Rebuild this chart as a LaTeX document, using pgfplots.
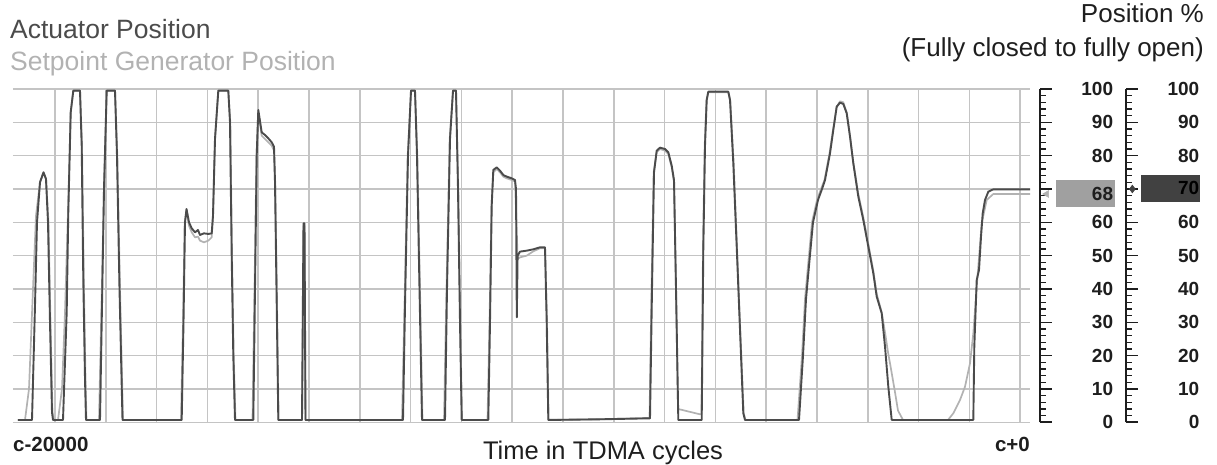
\documentclass[border=0pt]{standalone}
\usepackage{pgfplots}
\pgfplotsset{compat=1.18}
\usepackage{fontspec}
\setmainfont{Liberation Sans}
\definecolor{act}{RGB}{75,75,75}
\definecolor{spg}{RGB}{178,178,178}
\definecolor{gridc}{RGB}{196,196,196}
\definecolor{txt}{RGB}{30,30,30}
\definecolor{boxl}{RGB}{160,160,160}
\definecolor{boxd}{RGB}{65,65,65}

\begin{document}
\begin{tikzpicture}
\path[use as bounding box] (0pt,0pt) rectangle (1217pt,465pt);
% ---------------- main plot ----------------
\begin{axis}[
  at={(13pt,42.7pt)}, anchor=south west,
  scale only axis, width=1017pt, height=333.3pt,
  xmin=13, xmax=1030, ymin=0, ymax=100,
  axis line style={draw=none},
  xtick={55,105.8,...,1021}, ytick={0,10,...,100},
  xticklabels={}, yticklabels={},
  tick style={draw=none},
  major tick length=0pt,
  grid=major, major grid style={gridc, line width=1.5pt},
  clip=false,
]
% Setpoint Generator Position (light)
\addplot[spg, line width=1.7pt, line join=round] coordinates {
(18,0.7) (25,0.7) (29,10) (33,40) (36,62) (40,72) (43.5,75) (46,73) (48.5,60) (50.5,30) (52.5,3) (54,0.7)
(58,0.7) (62,10) (65,33) (68,63) (70.7,93) (73.3,99.5) (80,99.5) (82,83) (83.8,43) (85.5,13) (86.5,0.7)
(99,0.7) (101.5,35) (104,70) (106.7,99.5) (115,99.5) (117.3,80) (120,40) (123,0.7)
(181,0.7) (183,30) (184.7,60) (186.5,63.5) (189,59) (191.7,57) (195,55.5) (198,55.7) (200,54.5) (204,54) (208.3,54.5) (211.7,55.5) (213,62) (215,85) (218.3,99.5) (228.3,99.5) (230.3,90) (232,50) (233.7,20) (235.5,0.7)
(252.5,0.7) (254.5,40) (256.5,80) (258.3,93) (261.7,86) (265,85) (268.3,84) (271.7,83) (274,81.5) (275.2,72) (276.8,40) (278.6,0.7)
(302,0.7) (303.5,59) (304.5,59) (305.5,0.7)
(402,0.7) (404.5,35) (407.7,80) (411,99.5) (415,99.5) (417.3,80) (420,40) (422.5,0.7)
(444,0.7) (446.5,40) (449.7,85) (453,99.5) (456,99.5) (458.3,70) (460.3,30) (462,0.7)
(487.5,0.7) (489.5,30) (491.5,65) (493.3,75) (496.7,76) (500,75) (503.3,73.7) (506.7,73.2) (511.7,72.7) (515,72.2) (516.5,60) (517.6,49) (520,49.5) (526.7,50) (533.3,51.3) (540,52.2) (545,52.2) (547,30) (548.6,0.7)
(600,0.9) (649.5,1.3) (651.5,40) (653.7,75) (656.7,81) (660,82) (665,81.5) (668.3,80.5) (671.7,76.5) (674,72) (676,40) (678,4) (700,2.4) (701.5,2.4) (703,52) (704.7,83) (706.5,96.7) (708.3,99) (728.3,99) (730.3,96.5) (733.7,77.5) (737,52.5) (740.3,27.5) (743.7,2.7) (745.5,0.7)
(797.5,0.7) (802,20) (805,37) (808,47) (812,60) (817,66.7) (821,70) (824.5,72.7) (829.5,80.7) (833,87.7) (836.5,94.5) (840,96.3) (843.3,96) (846.7,93) (850,86) (853.3,78) (858.3,68.5) (863.3,61.5) (868.3,53.5) (873.3,45.5) (876.7,38.5) (881.7,33) (885,27) (888,21) (891,16) (895,9) (898,3.5) (903,0.7)
(948,0.7) (953.3,2.7) (960,6.7) (965,10.7) (970,17.7) (973.3,26.7) (976.7,40.7) (981.7,59.7) (986.7,66.7) (993.3,68.5) (1030,68.5)
};
% Actuator Position (dark)
\addplot[act, line width=1.9pt, line join=round] coordinates {
(18,0.7) (32,0.7) (35,35) (37,60) (40,72) (43.5,75) (46,73) (48,60) (50,30) (52,3) (53,0.7)
(63,0.7) (66.7,33) (68.3,63) (70.7,93) (73.3,99.5) (80,99.5) (81.7,83) (83.3,43) (85,13) (86,0.7)
(100,0.7) (102,35) (104,70) (106.7,99.5) (115,99.5) (117,80) (119.5,40) (122.5,0.7)
(181.7,0.7) (183.5,30) (185,60) (186.5,64) (189,60) (191.7,58.2) (195,57) (198,57.7) (200,56.2) (204,56.7) (208.3,56.5) (211.7,56.7) (213,62) (215,85) (218.3,99.5) (228.3,99.5) (230,90) (231.7,50) (233.3,20) (235,0.7)
(253.3,0.7) (255,40) (256.7,80) (258.3,93.7) (261.7,87) (265,86.2) (268.3,85.2) (271.7,84) (274,82.7) (275,72) (276.5,40) (278.3,0.7)
(302,0.7) (303.5,59.7) (304.5,59.7) (305.5,0.7)
(403,0.7) (405,35) (408,80) (411,99.5) (415,99.5) (417,80) (419.5,40) (422,0.7)
(445,0.7) (447,40) (450,85) (453,99.5) (456,99.5) (458,70) (460,30) (461.7,0.7)
(488.3,0.7) (490,30) (491.7,65) (493.3,75.7) (496.7,76.5) (500,75.5) (503.3,74.2) (506.7,73.7) (511.7,73.2) (515,72.7) (516,70) (516.8,31.5) (517.6,50) (520,51.2) (526.7,51.5) (533.3,51.9) (540,52.5) (545,52.5) (546.7,30) (548.3,0.7)
(600,0.9) (650,1.2) (652,40) (654,75) (656.7,81.5) (660,82.4) (665,82) (668.3,81) (671.7,77) (674,72.7) (676,40) (678.3,0.7)
(701.7,0.7) (703.3,52) (705,83) (706.7,96.7) (708.3,99.2) (728.3,99.2) (730,96.7) (733.3,77.7) (736.7,52.7) (740,27.7) (743.3,2.7) (745,0.7)
(799,0.7) (803,20) (806,37) (809,47) (813,60) (818,66.7) (822,70) (825,72.7) (830,80.7) (833.3,87.7) (836.7,94.7) (840,95.9) (843.3,95.5) (846.7,92.7) (850,85.7) (853.3,77.7) (858.3,67.7) (863.3,60.7) (868.3,52.7) (873.3,44.7) (876.7,37.7) (881.7,32.7) (885,22.7) (888.3,10.7) (891.7,0.7)
(973.3,0.7) (974.3,22.7) (976.7,42.7) (979,45.7) (981,55.7) (982.7,62.7) (985,66.7) (988.3,69.2) (993.3,69.9) (1030,69.9)
};
\end{axis}
% ---------------- scale 1 (setpoint) ----------------
\begin{axis}[
  at={(1040pt,42.7pt)}, anchor=south west,
  scale only axis, width=73.3pt, height=333.3pt,
  xmin=0, xmax=1, ymin=0, ymax=100,
  axis line style={draw=none},
  xtick=\empty,
  ytick={0,10,...,100},
  yticklabels={0,10,20,30,40,50,60,,80,90,100},
  minor y tick num=4,
  ytick pos=left, yticklabel pos=right,
  tick align=inside,
  major tick length=12pt, minor tick length=6pt,
  major tick style={txt, line width=1.6pt},
  minor tick style={txt, line width=1.2pt},
  yticklabel style={anchor=east, inner sep=0pt, font=\fontsize{19}{19}\selectfont\bfseries, text=txt},
  clip=false,
]
\draw[txt, line width=1.8pt] (rel axis cs:0,0) -- (rel axis cs:0,1);
\fill[boxl] (axis cs:0.213,64.7) rectangle (axis cs:1.018,72.8);
\node[anchor=east, inner sep=0pt, font=\fontsize{19}{19}\selectfont\bfseries, text=txt] at (axis cs:1,68.6) {68};
\addplot[only marks, mark=triangle*, mark size=4pt, color=spg, mark options={rotate=90}] coordinates {(0.09,68.5)};
\end{axis}
% ---------------- scale 2 (actuator) ----------------
\begin{axis}[
  at={(1126pt,42.7pt)}, anchor=south west,
  scale only axis, width=73.5pt, height=333.3pt,
  xmin=0, xmax=1, ymin=0, ymax=100,
  axis line style={draw=none},
  xtick=\empty,
  ytick={0,10,...,100},
  yticklabels={0,10,20,30,40,50,60,,80,90,100},
  minor y tick num=4,
  ytick pos=left, yticklabel pos=right,
  tick align=inside,
  major tick length=12pt, minor tick length=6pt,
  major tick style={txt, line width=1.6pt},
  minor tick style={txt, line width=1.2pt},
  yticklabel style={anchor=east, inner sep=0pt, font=\fontsize{19}{19}\selectfont\bfseries, text=txt},
  clip=false,
]
\draw[txt, line width=1.8pt] (rel axis cs:0,0) -- (rel axis cs:0,1);
\fill[boxd] (axis cs:0.204,66.2) rectangle (axis cs:1.01,74.2);
\node[anchor=east, inner sep=0pt, font=\fontsize{19}{19}\selectfont\bfseries, text=black] at (axis cs:1,70.2) {70};
\addplot[only marks, mark=diamond*, mark size=4pt, color=boxd] coordinates {(0.086,70)};
\end{axis}
% ---------------- texts ----------------
\node[anchor=base west, inner sep=0pt, text=act, font=\fontsize{26.5}{30}\selectfont] at (10pt,426.7pt) {Actuator Position};
\node[anchor=base west, inner sep=0pt, text=spg, font=\fontsize{26.5}{30}\selectfont] at (10pt,394.2pt) {Setpoint Generator Position};
\node[anchor=base east, inner sep=0pt, text=txt, font=\fontsize{26}{30}\selectfont] at (1204pt,442.3pt) {Position \%};
\node[anchor=base east, inner sep=0pt, text=txt, font=\fontsize{26}{30}\selectfont] at (1204pt,408pt) {(Fully closed to fully open)};
\node[anchor=base, inner sep=0pt, text=txt, font=\fontsize{25.5}{30}\selectfont] at (603pt,5pt) {Time in TDMA cycles};
\node[anchor=base west, inner sep=0pt, text=txt, font=\fontsize{20.5}{24}\selectfont\bfseries] at (13pt,13.3pt) {c-20000};
\node[anchor=base east, inner sep=0pt, text=txt, font=\fontsize{20.5}{24}\selectfont\bfseries] at (1030pt,13.3pt) {c+0};
\end{tikzpicture}
\end{document}
